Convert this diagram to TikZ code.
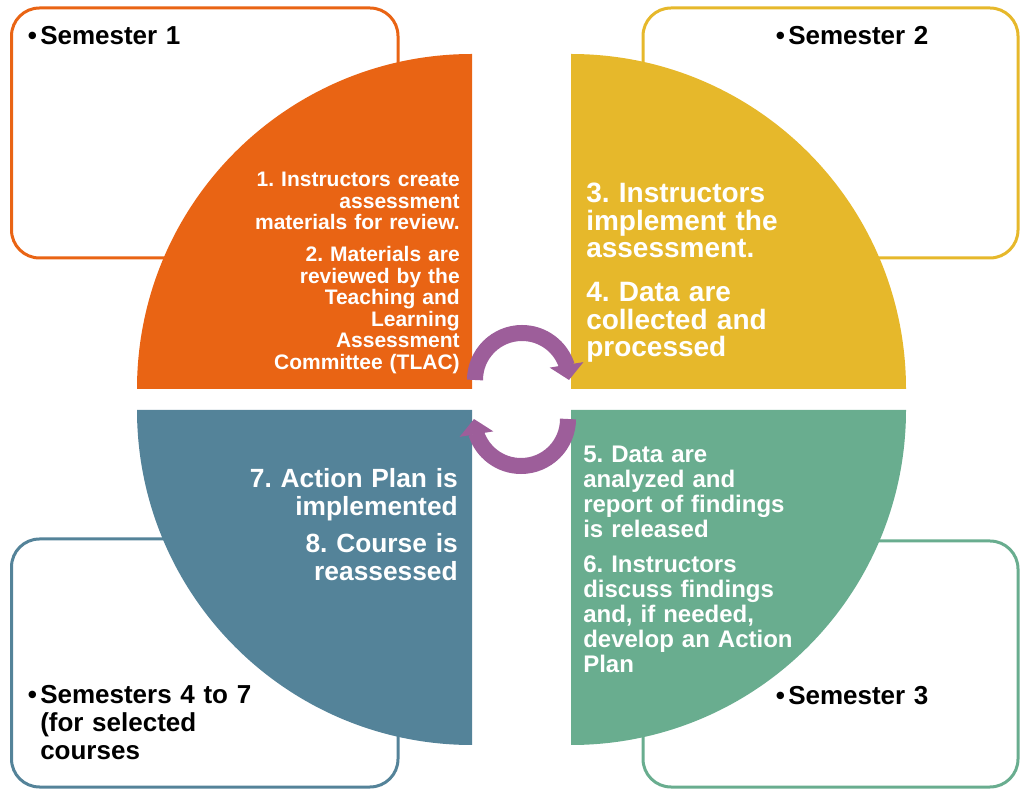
\documentclass[tikz,border=0pt]{standalone}
\usepackage{fontspec}
\setmainfont{Liberation Sans}
\usepackage{xcolor}
\usetikzlibrary{arrows.meta}
\usetikzlibrary{bending}
\frenchspacing

\definecolor{semOrange}{HTML}{E96414}
\definecolor{semYellow}{HTML}{E6B82B}
\definecolor{semTeal}{HTML}{69AD8F}
\definecolor{semBlue}{HTML}{548399}
\definecolor{cyclePurple}{HTML}{9D5E9A}

\begin{document}
\begin{tikzpicture}[x=0.75pt,y=0.75pt,
	semBox/.style={line width=2.25pt,rounded corners=21pt},
	semLabel/.style={inner sep=0pt,anchor=base west,align=left,text width=200pt,
		font=\bfseries\fontsize{19.5}{21}\selectfont},
	stepText/.style={text=white,inner sep=0pt,text width=170pt},
	cycleArrow/.style={draw=cyclePurple,line width=12pt,-{Triangle[width=25pt,length=11.5pt]}}]
	\useasboundingbox (0,0) rectangle (1021,789);
	\pgfmathsetmacro{\quadRadius}{335}
	
	% Semester boxes (behind the quarters)
	\draw[semBox,draw=semOrange] (11.5,531) rectangle (398,781);
	\draw[semBox,draw=semYellow] (643,531) rectangle (1018,781);
	\draw[semBox,draw=semTeal] (643,2) rectangle (1018,248);
	\draw[semBox,draw=semBlue] (11.5,2) rectangle (398,250);
	
	% Quarter discs
	\fill[semOrange] (472,400) -- (472-\quadRadius,400) arc[start angle=180,end angle=90,radius=\quadRadius] -- cycle;
	\fill[semYellow] (571,400) -- (571,400+\quadRadius) arc[start angle=90,end angle=0,radius=\quadRadius] -- cycle;
	\fill[semTeal] (571,379) -- (571+\quadRadius,379) arc[start angle=0,end angle=-90,radius=\quadRadius] -- cycle;
	\fill[semBlue] (472,379) -- (472,379-\quadRadius) arc[start angle=270,end angle=180,radius=\quadRadius] -- cycle;
	
	% Cycle arrows in the middle
	\draw[cycleArrow] (475,409) arc[start angle=180,end angle=0,radius=47];
	\draw[cycleArrow] (568,370) arc[start angle=0,end angle=-180,radius=47];
	
	% Steps
	\node[stepText,anchor=base east,align=right,font=\bfseries\fontsize{15.75}{16.1}\selectfont] (stepOne) at (460,602)
		{1. Instructors create\\assessment\\materials for review.};
	\node[stepText,anchor=base east,align=right,font=\bfseries\fontsize{15.75}{16.1}\selectfont] (stepTwo) at (460,527)
		{2. Materials are\\reviewed by the\\Teaching and\\Learning\\Assessment\\Committee (TLAC)};
	\node[stepText,anchor=base west,align=left,font=\bfseries\fontsize{21}{20.6}\selectfont] (stepThree) at (586,586)
		{3. Instructors\\implement the\\assessment.};
	\node[stepText,anchor=base west,align=left,font=\bfseries\fontsize{21}{20.6}\selectfont] (stepFour) at (586,487)
		{4. Data are\\collected and\\processed};
	\node[stepText,anchor=base west,align=left,font=\bfseries\fontsize{18}{18.75}\selectfont] (stepFive) at (583,326)
		{5. Data are\\analyzed and\\report of findings\\is released};
	\node[stepText,anchor=base west,align=left,font=\bfseries\fontsize{18}{18.75}\selectfont] (stepSix) at (583,216)
		{6. Instructors\\discuss findings\\and, if needed,\\develop an Action\\Plan};
	\node[stepText,anchor=base east,align=right,font=\bfseries\fontsize{19.75}{21}\selectfont] (stepSeven) at (458,301)
		{7. Action Plan is\\implemented};
	\node[stepText,anchor=base east,align=right,font=\bfseries\fontsize{19.75}{21}\selectfont] (stepEight) at (458,236)
		{8. Course is\\reassessed};
	
	% Semester labels
	\node[semLabel] (semOne) at (40,744) {\llap{•\hspace{2.5pt}}Semester 1};
	\node[semLabel] (semTwo) at (788,744) {\llap{•\hspace{2.5pt}}Semester 2};
	\node[semLabel] (semThree) at (788,84) {\llap{•\hspace{2.5pt}}Semester 3};
	\node[semLabel] (semFour) at (40,85) {\llap{•\hspace{2.5pt}}Semesters 4 to 7\\(for selected\\courses};
\end{tikzpicture}
\end{document}
